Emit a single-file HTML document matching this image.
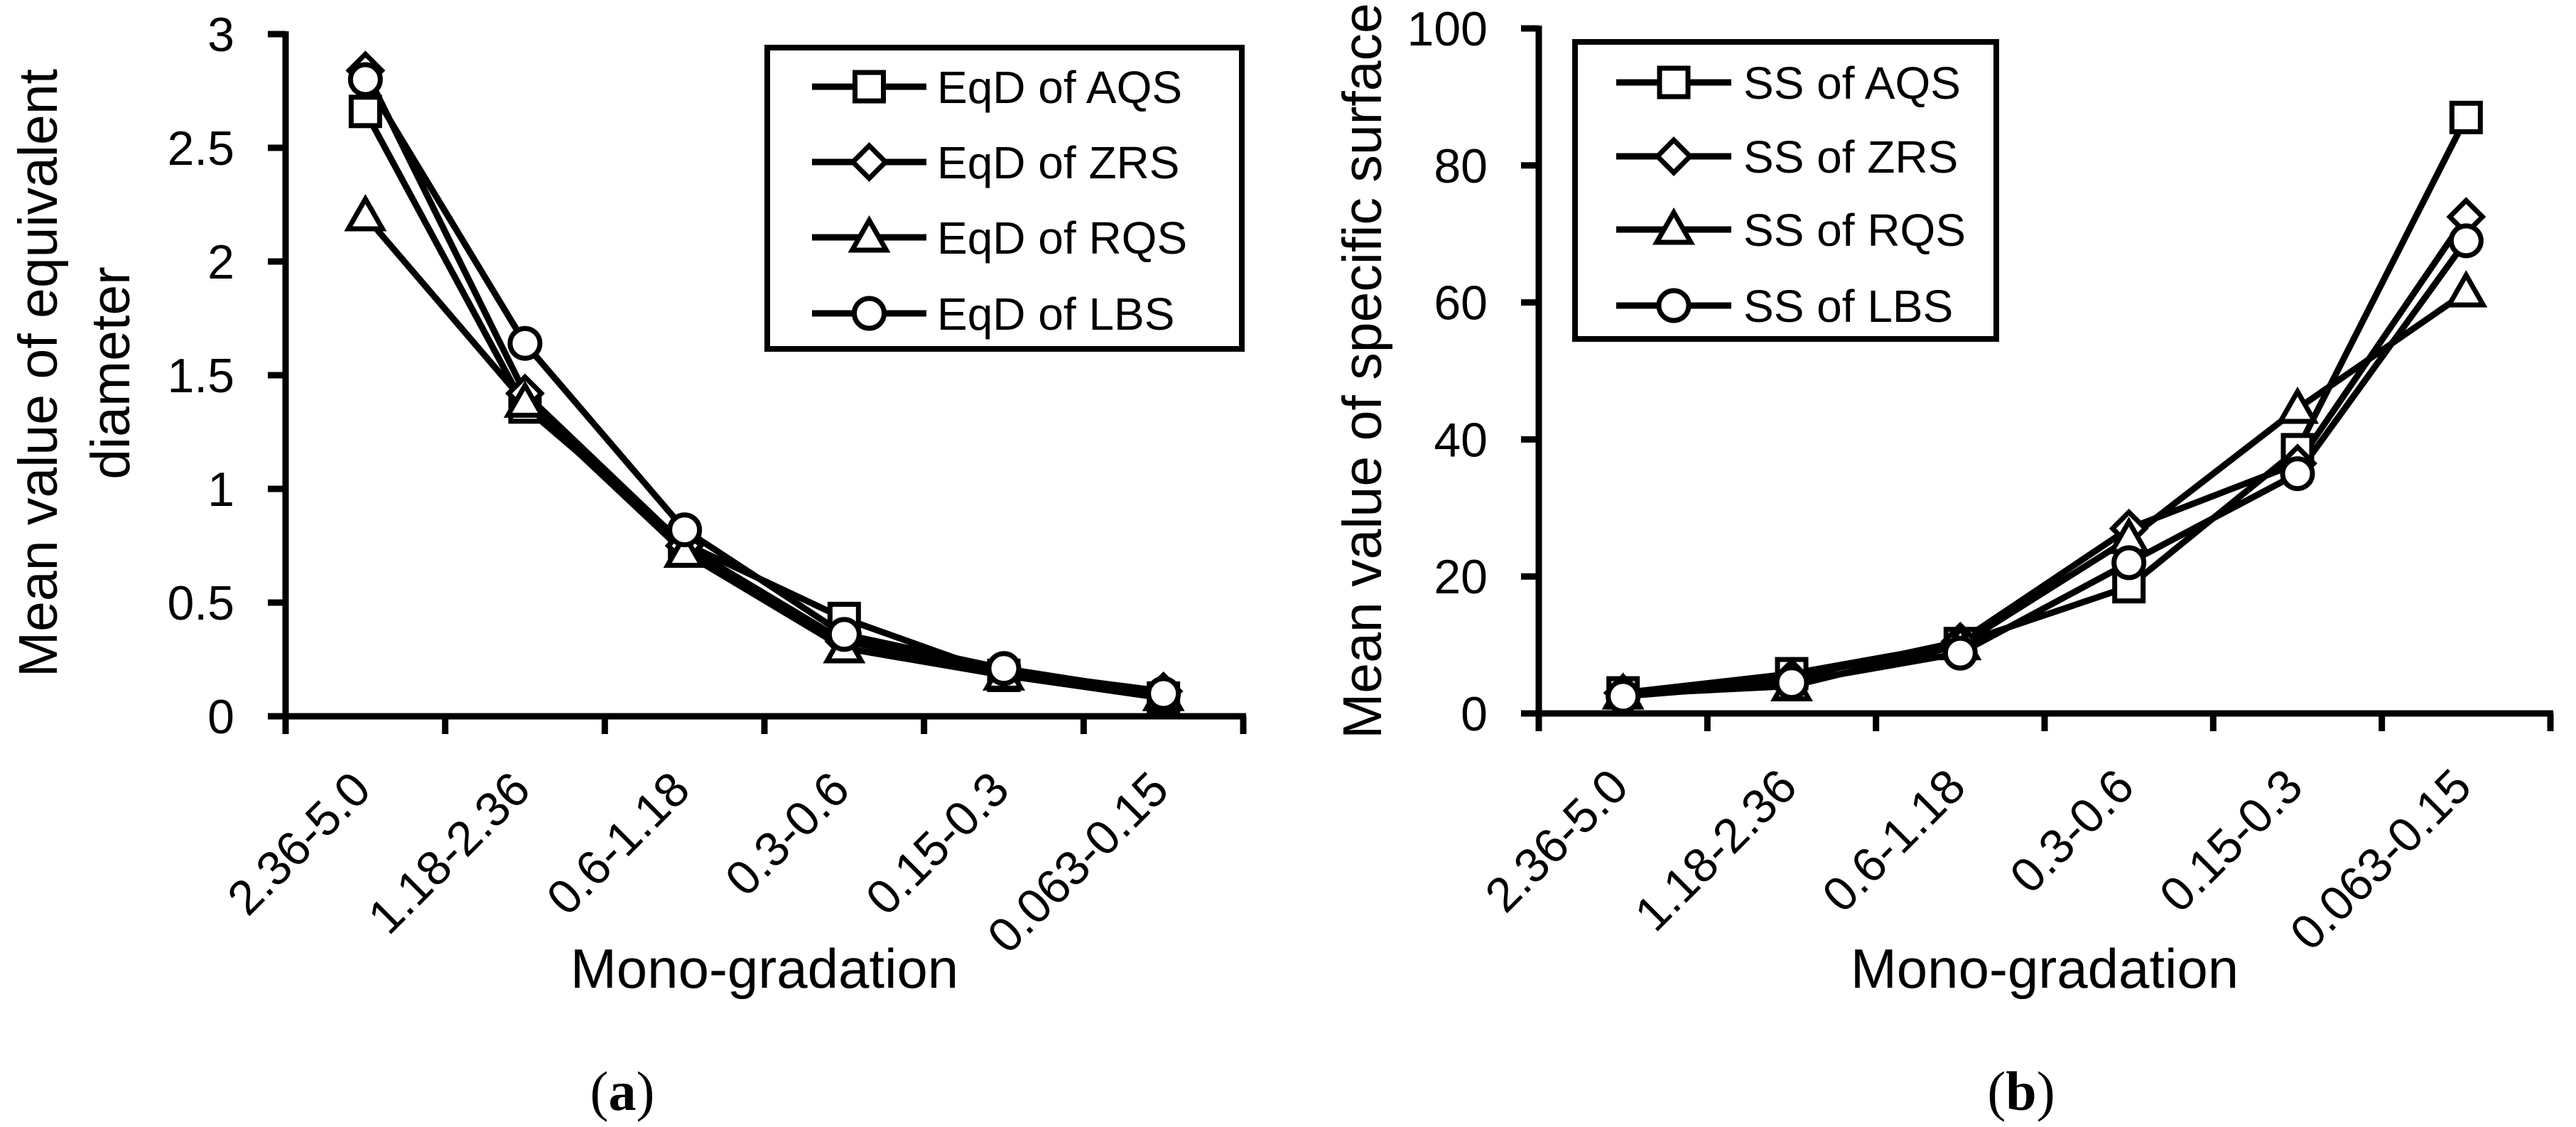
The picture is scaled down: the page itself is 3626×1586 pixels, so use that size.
<!DOCTYPE html>
<html><head><meta charset="utf-8"><style>
html,body{margin:0;padding:0;background:#fff;}
svg{display:block;font-family:"Liberation Sans",sans-serif;}
</style></head><body>
<svg id="fig" width="3626" height="1586" viewBox="0 0 3626 1586" xmlns="http://www.w3.org/2000/svg"></svg>
<script>
const categories = ["2.36-5.0","1.18-2.36","0.6-1.18","0.3-0.6","0.15-0.3","0.063-0.15"];
const eqdAQS = [2.66,1.36,0.76,0.43,0.18,0.08];
const eqdZRS = [2.84,1.42,0.75,0.33,0.20,0.11];
const eqdRQS = [2.20,1.38,0.72,0.30,0.18,0.09];
const eqdLBS = [2.80,1.64,0.82,0.36,0.21,0.10];
const ssAQS = [3.0,5.8,10.2,18.5,38.5,87];
const ssZRS = [3.0,5.2,10.5,27,36.5,72.5];
const ssRQS = [2.8,4.0,10.0,25.5,44.5,61.5];
const ssLBS = [2.5,4.5,8.8,22,35,69];
const leftTicks = ["0","0.5","1","1.5","2","2.5","3"];
const leftTickVals = [0,0.5,1,1.5,2,2.5,3];
const rightTicks = ["0","20","40","60","80","100"];
const rightTickVals = [0,20,40,60,80,100];
const markers = ["square","diamond","triangle","circle"];

const NS="http://www.w3.org/2000/svg";
const svg=document.getElementById('fig');
function mk(tag,attrs,parent){const e=document.createElementNS(NS,tag);for(const k in attrs)e.setAttribute(k,attrs[k]);(parent||svg).appendChild(e);return e;}

function marker(type,x,y,g){
  const st={fill:"#fff",stroke:"#000","stroke-width":7};
  let e;
  if(type==="square"){e=mk('rect',Object.assign({x:x-20,y:y-20,width:40,height:40},st),g);}
  else if(type==="diamond"){e=mk('polygon',Object.assign({points:`${x},${y-23} ${x+23},${y} ${x},${y+23} ${x-23},${y}`},st),g);}
  else if(type==="triangle"){e=mk('polygon',Object.assign({points:`${x},${y-24} ${x+24},${y+18} ${x-24},${y+18}`},st),g);}
  else {e=mk('circle',Object.assign({cx:x,cy:y,r:21},st),g);}
  
  
  return e;
}

function chart(cfg){
  const g=mk('g',{});
  
  
  const {x0,x1,y0,yTop,vmax}=cfg;
  const n=categories.length, cw=(x1-x0)/n;
  const xs=i=>x0+cw*(i+0.5);
  const ys=v=>y0-(y0-yTop)*v/vmax;
  const ya=mk('line',{x1:x0,y1:y0+4,x2:x0,y2:yTop-4,stroke:"#000","stroke-width":9},g);
  
  const xa=mk('line',{x1:x0-4,y1:y0,x2:x1+4,y2:y0,stroke:"#000","stroke-width":9},g);
  
  cfg.tickVals.forEach((v,i)=>{
    const y=ys(v);
    const t=mk('line',{x1:x0-25,y1:y,x2:x0,y2:y,stroke:"#000","stroke-width":9},g);
    
    const l=mk('text',{x:x0-72,y:y+24,"font-size":68,"text-anchor":"end"},g);
    l.textContent=cfg.ticks[i];
    
  });
  for(let i=0;i<=n;i++){
    const x=x0+cw*i;
    const t=mk('line',{x1:x,y1:y0,x2:x,y2:y0+25,stroke:"#000","stroke-width":9},g);
    
  }
  categories.forEach((c,i)=>{
    const ex=xs(i)+11, ey=y0+107;
    const l=mk('text',{x:ex,y:ey,"font-size":68,"text-anchor":"end",transform:`rotate(-45 ${ex} ${ey})`},g);
    l.textContent=c;
    
  });
  cfg.series.forEach((s,si)=>{
    const pts=s.map((v,i)=>`${xs(i)},${ys(v)}`).join(' ');
    const pl=mk('polyline',{points:pts,fill:"none",stroke:"#000","stroke-width":9,"stroke-linejoin":"round"},g);
    
    
  });
  cfg.series.forEach((s,si)=>{s.forEach((v,i)=>marker(markers[si],xs(i),ys(v),g));});
  const L=cfg.legend;
  const lg=mk('g',{},g);
  
  mk('rect',{x:L.x,y:L.y,width:L.w,height:L.h,fill:"#fff",stroke:"#000","stroke-width":8},lg);
  cfg.labels.forEach((lab,i)=>{
    const ey=L.rows[i];
    const e=mk('g',{},lg);
    
    mk('line',{x1:L.lx1,y1:ey,x2:L.lx2,y2:ey,stroke:"#000","stroke-width":9},e);
    marker(markers[i],(L.lx1+L.lx2)/2,ey,e);
    const t=mk('text',{x:L.tx,y:ey+23,"font-size":64},e);
    t.textContent=lab;
  });
  return g;
}

chart({name:'chart-a',x0:402,x1:1750,y0:1008,yTop:48,vmax:3,
  ticks:leftTicks,tickVals:leftTickVals,series:[eqdAQS,eqdZRS,eqdRQS,eqdLBS],
  labels:["EqD of AQS","EqD of ZRS","EqD of RQS","EqD of LBS"],
  legend:{x:1080,y:67,w:668,h:424,rows:[122,228,334,441],lx1:1143,lx2:1304,tx:1319}});
chart({name:'chart-b',x0:2166,x1:3590,y0:1004,yTop:40,vmax:100,
  ticks:rightTicks,tickVals:rightTickVals,series:[ssAQS,ssZRS,ssRQS,ssLBS],
  labels:["SS of AQS","SS of ZRS","SS of RQS","SS of LBS"],
  legend:{x:2217,y:59,w:593,h:418,rows:[116,220,323,430],lx1:2275,lx2:2437,tx:2454}});

function txt(s,attrs,name){const t=mk('text',attrs);t.textContent=s;return t;}
txt("Mean value of equivalent",{x:80,y:525,"font-size":77,"text-anchor":"middle",transform:"rotate(-90 80 525)"},'y-axis-title-a');
txt("diameter",{x:182,y:525,"font-size":77,"text-anchor":"middle",transform:"rotate(-90 182 525)"},'y-axis-title-a-line2');
txt("Mean value of specific surface",{x:1944,y:522,"font-size":77,"text-anchor":"middle",transform:"rotate(-90 1944 522)"},'y-axis-title-b');
txt("Mono-gradation",{x:1076,y:1390,"font-size":78,"text-anchor":"middle"},'x-axis-title-a');
txt("Mono-gradation",{x:2878,y:1390,"font-size":78,"text-anchor":"middle"},'x-axis-title-b');
const a=txt("",{x:876,y:1562,"font-size":78,"text-anchor":"middle","font-family":"Liberation Serif, serif"},'panel-label-a');
a.innerHTML='(<tspan font-weight="bold">a</tspan>)';
const b=txt("",{x:2845,y:1562,"font-size":78,"text-anchor":"middle","font-family":"Liberation Serif, serif"},'panel-label-b');
b.innerHTML='(<tspan font-weight="bold">b</tspan>)';
</script>
</body></html>
